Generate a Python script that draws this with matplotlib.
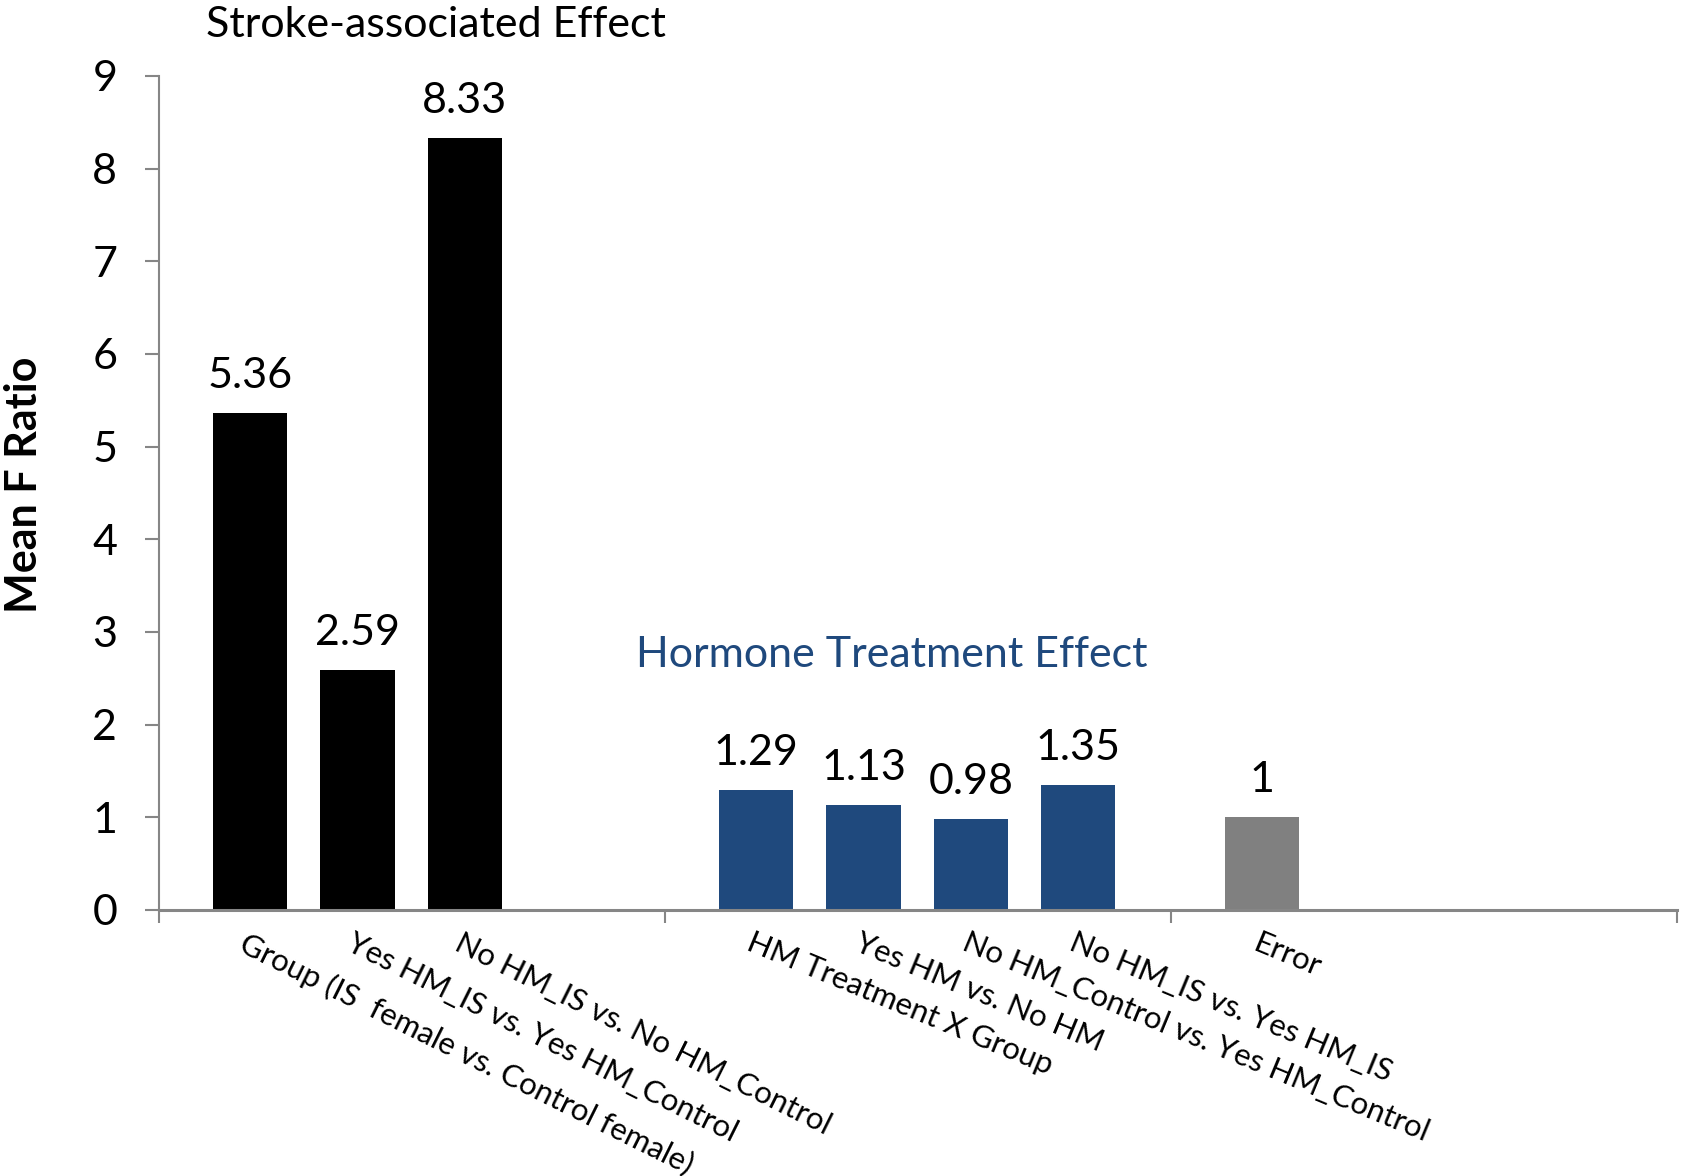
import numpy as np
import matplotlib
matplotlib.use('Agg')
import matplotlib.pyplot as plt

# Data
labels = [
    'Group (IS  female vs. Control female)',
    'Yes HM_IS vs. Yes HM_Control',
    'No HM_IS vs. No HM_Control',
    'HM Treatment X Group',
    'Yes HM vs. No HM',
    'No HM_Control vs. Yes HM_Control',
    'No HM_IS vs. Yes HM_IS',
    'Error',
]
values = [5.36, 2.59, 8.33, 1.29, 1.13, 0.98, 1.35, 1]
value_text = ['5.36', '2.59', '8.33', '1.29', '1.13', '0.98', '1.35', '1']
group = [0, 0, 0, 1, 1, 1, 1, 2]
slot = [0, 1, 2, 0, 1, 2, 3, 0]
colors = ['#000000'] * 3 + ['#1F497D'] * 4 + ['#808080']
yticks = list(range(0, 10))

plt.rcParams['font.family'] = ['Lato', 'DejaVu Sans']
AXIS = '#868686'

fig = plt.figure(figsize=(16.86, 11.76), dpi=100)
ax = fig.add_axes([0.0943, 0.2262, 0.9004, 0.7092])

# clustered layout: 3 categories, up to 4 slots each
x = np.array(group) + 0.180 + 0.2123 * np.array(slot)
ax.bar(x, values, width=0.1465, color=colors, zorder=2)

for xi, v, t in zip(x, values, value_text):
    ax.annotate(t, (xi, v), xytext=(0, 18), textcoords='offset points',
                ha='center', va='baseline', fontsize=31)

# labels in the first block are tilted a bit more than the rest
rot = {0: -26.5, 1: -22.5, 2: -22.5}
for xi, g, lab in zip(x, group, labels):
    ax.text(xi - 0.004, -0.2, lab, rotation=rot[g], rotation_mode='anchor',
            ha='left', va='top', fontsize=22.5, clip_on=False)

ax.set_xlim(0, 3)
ax.set_ylim(0, 9)
ax.set_xticks([0, 1, 2, 3])
ax.set_xticklabels([])
ax.set_yticks(yticks)
ax.tick_params(axis='y', length=10, width=1.5, color=AXIS, labelsize=31, pad=20)
ax.tick_params(axis='x', length=9.5, width=1.5, color=AXIS)

for s in ['top', 'right']:
    ax.spines[s].set_visible(False)
ax.spines['left'].set_color(AXIS)
ax.spines['left'].set_linewidth(1.5)
ax.spines['bottom'].set_color(AXIS)
ax.spines['bottom'].set_linewidth(2.2)

ax.set_ylabel('Mean F Ratio', fontsize=31, fontweight='bold')
ax.yaxis.set_label_coords(-0.076, 0.51)

ax.text(0.547, 9.42, 'Stroke-associated Effect', ha='center', va='baseline',
        fontsize=31, clip_on=False)
ax.text(1.449, 2.62, 'Hormone Treatment Effect', ha='center', va='baseline',
        fontsize=31, color='#1F497D')

fig.savefig('out.png', dpi=100, facecolor='white')
